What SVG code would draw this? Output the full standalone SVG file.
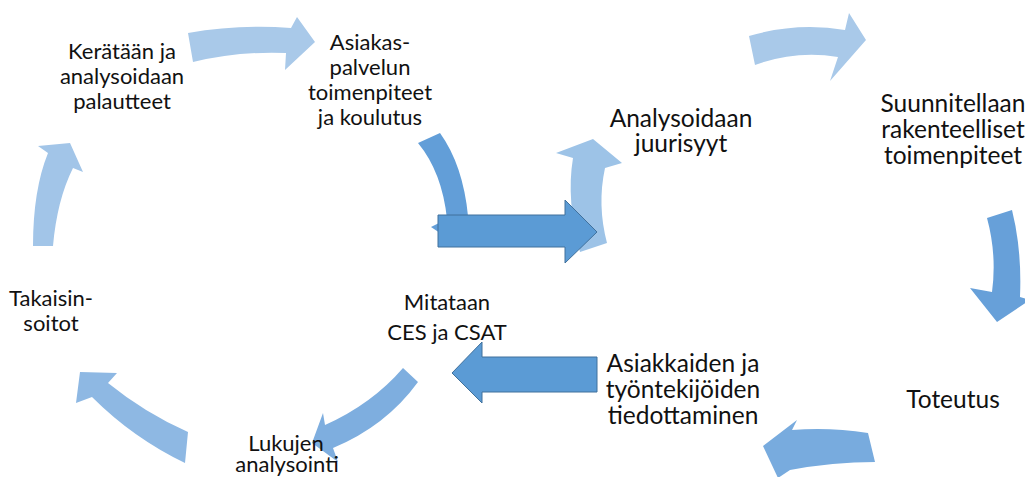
<svg xmlns="http://www.w3.org/2000/svg" width="1025" height="477" viewBox="0 0 1025 477">
  <style>
    .lbl { font-family: Lato, "Open Sans", "Liberation Sans", sans-serif; fill: #111; text-anchor: middle; }
    .sm { font-size: 22px; }
    .lg { font-size: 24.5px; }
    .straight { fill: #5b9bd5; stroke: #41719c; stroke-width: 1; }
  </style>
  <rect width="1025" height="477" fill="#ffffff"/>

  <!-- curved and straight arrows -->
  <g id="connectors">
    <path id="arc-top-left" fill="#a9c9e9" d="M188,33 Q239,24 291,28 L297,17 L315,42 L285,70 L286,53 Q239,51 193,62 Z"/>
    <path id="arc-left" fill="#a2c5e8" d="M33,246 Q33,190 48,153 L38,146 L70,143 L83,172 L73,168 Q57,200 53,246 Z"/>
    <path id="arc-bottom-left" fill="#8eb8e3" d="M188,432 Q145,413 108,383 L117,373 L80,372 L76,403 L92,397 Q133,438 185,463 Z"/>
    <path id="arc-bottom-mid" fill="#7eaedf" d="M403,368 Q372,404 325,425 L323,413 L312,443 L338,462 L333,448 Q386,426 418,382 Z"/>
    <path id="arc-center-down" fill="#629ed8" d="M418,143 L440,133 Q463,165 468,216 L478,216 L458,245 L431,227 L447,219 Q442,172 418,143 Z"/>
    <path id="arc-center-up" fill="#9dc3e7" d="M580,252 Q566,200 573,158 L556,153 L593,139 L622,163 L605,168 Q597,205 607,243 Z"/>
    <path id="arrow-center-right" class="straight" d="M438,215 L565,215 L565,200 L597,232 L565,263 L565,247 L438,247 Z"/>
    <path id="arc-top-right" fill="#a9c9e9" d="M749,36 Q797,22 845,30 L849,13 L866,40 L830,81 L838,57 Q796,50 755,65 Z"/>
    <path id="arc-right" fill="#67a0d9" d="M987,218 Q997,255 992,292 L970,288 L997,322 L1030,300 L1020,297 Q1022,250 1012,210 Z"/>
    <path id="arc-bottom-right" fill="#78abde" d="M868,433 Q830,427 792,430 L797,420 L763,446 L778,478 L790,470 Q833,462 875,462 Z"/>
    <path id="arrow-left" class="straight" d="M597,357 L482,357 L482,342 L452,373 L482,403 L482,392 L597,392 Z"/>
  </g>

  <g id="node-keratan">
    <text class="lbl sm" x="122" y="59">Kerätään ja</text>
    <text class="lbl sm" x="122" y="84">analysoidaan</text>
    <text class="lbl sm" x="122" y="109">palautteet</text>
  </g>
  <g id="node-asiakaspalvelun">
    <text class="lbl sm" x="370" y="50">Asiakas-</text>
    <text class="lbl sm" x="370" y="75">palvelun</text>
    <text class="lbl sm" x="370" y="100">toimenpiteet</text>
    <text class="lbl sm" x="370" y="125">ja koulutus</text>
  </g>
  <g id="node-takaisinsoitot">
    <text class="lbl sm" x="51" y="306">Takaisin-</text>
    <text class="lbl sm" x="51" y="331">soitot</text>
  </g>
  <g id="node-mitataan">
    <text class="lbl sm" x="447" y="310">Mitataan</text>
    <text class="lbl sm" x="447" y="340">CES ja CSAT</text>
  </g>
  <g id="node-lukujen">
    <text class="lbl sm" x="286" y="451">Lukujen</text>
    <text class="lbl sm" x="287" y="472">analysointi</text>
  </g>
  <g id="node-analysoidaan">
    <text class="lbl lg" x="681" y="127">Analysoidaan</text>
    <text class="lbl lg" x="681" y="152">juurisyyt</text>
  </g>
  <g id="node-suunnitellaan">
    <text class="lbl lg" x="953" y="112">Suunnitellaan</text>
    <text class="lbl lg" x="953" y="138">rakenteelliset</text>
    <text class="lbl lg" x="953" y="164">toimenpiteet</text>
  </g>
  <g id="node-toteutus">
    <text class="lbl lg" x="953" y="408">Toteutus</text>
  </g>
  <g id="node-tiedottaminen">
    <text class="lbl lg" x="683" y="372">Asiakkaiden ja</text>
    <text class="lbl lg" x="683" y="398">työntekijöiden</text>
    <text class="lbl lg" x="683" y="424">tiedottaminen</text>
  </g>
</svg>
